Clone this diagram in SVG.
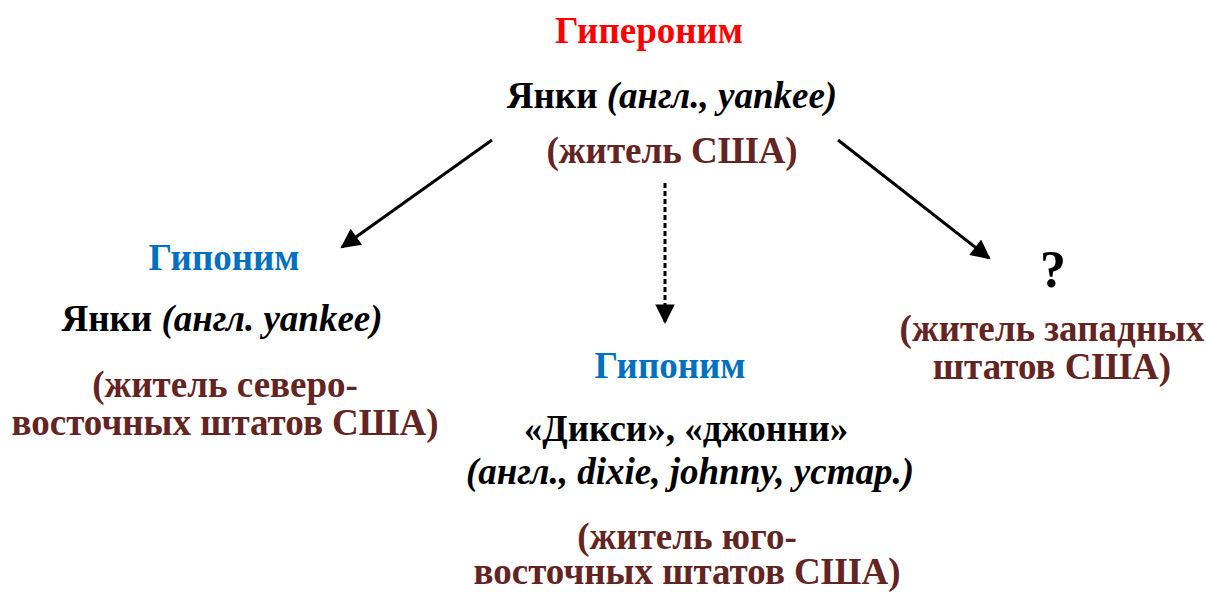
<svg xmlns="http://www.w3.org/2000/svg" width="1206" height="592" viewBox="0 0 1206 592">
<style>
text{font-family:'Liberation Serif','Times New Roman',serif;font-weight:700;font-size:37px;text-anchor:middle}
.red{fill:#FF0000}.blue{fill:#0070C0}.blk{fill:#000}.brn{fill:#632523}
.it{font-style:italic}
.q{font-size:52px}
.conn{stroke:#000;stroke-width:3;fill:none}
</style>
<defs>
<marker id="ah" viewBox="0 0 10 10" refX="9" refY="5" markerWidth="7.5" markerHeight="6.5" markerUnits="strokeWidth" orient="auto">
<path d="M0,0 L10,5 L0,10 z" fill="#000"/>
</marker>
</defs>
<rect width="1206" height="592" fill="#fff"/>
<g id="hypernym">
<text x="649" y="43" class="red">Гипероним</text>
<text x="672" y="108" class="blk">Янки <tspan class="it">(англ., yankee)</tspan></text>
<text x="672" y="163" class="brn">(житель США)</text>
</g>
<g id="hyponym-left">
<text x="224" y="270" class="blue">Гипоним</text>
<text x="222" y="331" class="blk">Янки <tspan class="it">(англ. yankee)</tspan></text>
<text x="225" y="397" class="brn">(житель северо-</text>
<text x="225" y="435" class="brn">восточных штатов США)</text>
</g>
<g id="hyponym-center">
<text x="670" y="378" class="blue">Гипоним</text>
<text x="686" y="441" class="blk">«Дикси», «джонни»</text>
<text x="690" y="484" class="blk it">(англ., dixie, johnny, устар.)</text>
<text x="687" y="549" class="brn">(житель юго-</text>
<text x="687" y="584" class="brn">восточных штатов США)</text>
</g>
<g id="unknown-right">
<text x="1053" y="287" class="blk q">?</text>
<text x="1052" y="341" class="brn">(житель западных</text>
<text x="1052" y="379" class="brn">штатов США)</text>
</g>
<g id="connectors">
<line x1="492" y1="140" x2="342" y2="247" class="conn" marker-end="url(#ah)"/>
<line x1="665" y1="183" x2="665" y2="322" class="conn" stroke-dasharray="5,3" marker-end="url(#ah)"/>
<line x1="838" y1="140" x2="989" y2="258" class="conn" marker-end="url(#ah)"/>
</g>
</svg>
